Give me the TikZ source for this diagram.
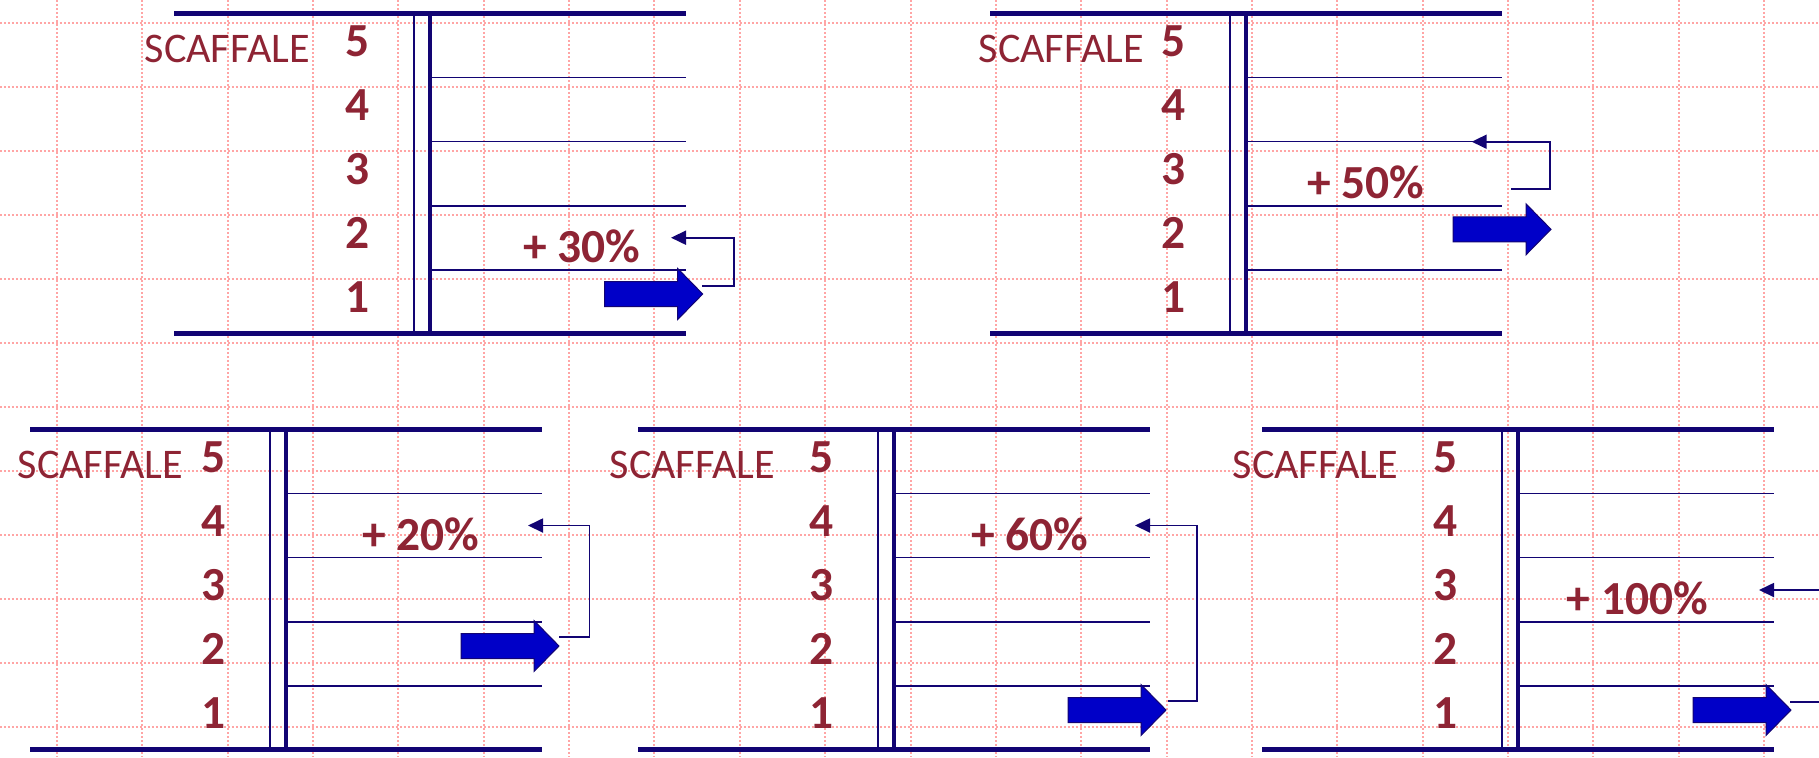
\documentclass[tikz,border=0pt]{standalone}
\usepackage{fontspec}
\setmainfont{Carlito}
\usetikzlibrary{arrows.meta}

\definecolor{navy}{RGB}{18,4,115}
\definecolor{shelfred}{RGB}{142,36,52}
\definecolor{arrowblue}{RGB}{0,0,200}
\definecolor{gridpink}{RGB}{255,165,165}

\tikzset{
  gridline/.style={gridpink, line width=0.2mm, dash pattern=on 0.2mm off 0.2mm},
  bar/.style={navy, line width=0.5mm},
  thinpost/.style={navy, line width=0.15mm},
  thickpost/.style={navy, line width=0.4mm},
  shelfline/.style={navy, line width=0.18mm},
  levelnum/.style={text=shelfred, font=\fontsize{13.5}{16}\selectfont\bfseries, anchor=base, inner sep=0pt},
  rackname/.style={text=shelfred, font=\fontsize{12}{14}\selectfont, anchor=base west, inner sep=0pt},
  gain/.style={text=shelfred, font=\fontsize{13.5}{16}\selectfont\bfseries, anchor=base, inner sep=0pt},
  fatarrow/.style={fill=arrowblue, draw=navy, line width=0.1mm},
  loopback/.style={navy, line width=0.18mm, -{Triangle[length=1.5mm,width=1.4mm]}},
}

% one rack: name prefix, left x, top y, x of the caption
\newcommand\rack[4]{%
  \begin{scope}[shift={(#2,#3)}]
    \draw[bar] (0,0) -- (511.5,0);
    \draw[bar] (0,320.5) -- (511.5,320.5);
    \draw[thinpost] (240,0) -- (240,320.5);
    \draw[thickpost] (255.5,0) -- (255.5,320.5);
    \foreach \k in {1,...,4}
      \draw[shelfline] (255.5,{64.1*\k}) -- (511.5,{64.1*\k});
    \node[rackname] (#1-name) at (#4,49) {SCAFFALE};
    \foreach \i in {1,...,5}
      \node[levelnum] (#1-n\i) at (183.5,{64.1*(5-\i)+43}) {\i};
  \end{scope}}

% thick blue arrow: name, tip x, centre y
\newcommand\fatarrow[3]{%
  \begin{scope}[shift={(#2,#3)}]
    \draw[fatarrow] (-98,-12.5) -- (-25,-12.5) -- (-25,-25.5) -- (0,0)
      -- (-25,25.5) -- (-25,12.5) -- (-98,12.5) -- cycle;
    \coordinate (#1) at (0,0);
  \end{scope}}

\begin{document}
\begin{tikzpicture}[x=0.1mm, y=-0.1mm]
  \useasboundingbox (0,0) rectangle (1819,757);
  \clip (0,0) rectangle (1819,757);
  \fill[white] (0,0) rectangle (1819,757);

  % squared paper
  \foreach \k in {0,...,20}
    \draw[gridline] ({57+85.35*\k},0) -- ({57+85.35*\k},757);
  \foreach \k in {0,...,11}
    \draw[gridline] (0,{23.3+64*\k}) -- (1819,{23.3+64*\k});

  % racks
  \rack{tl}{174}{13.3}{-30}
  \rack{tr}{990}{13.3}{-12}
  \rack{bl}{30}{429.3}{-13}
  \rack{bm}{638}{429.3}{-29}
  \rack{br}{1262}{429.3}{-30}

  % gains
  \node[gain] (tl-gain) at (582,262) {+ 30\%};
  \node[gain] (tr-gain) at (1366,198) {+ 50\%};
  \node[gain] (bl-gain) at (421,550) {+ 20\%};
  \node[gain] (bm-gain) at (1030,550) {+ 60\%};
  \node[gain] (br-gain) at (1637.5,614) {+ 100\%};

  % outgoing flows
  \fatarrow{tl-flow}{702.7}{294}
  \fatarrow{tr-flow}{1551}{229.3}
  \fatarrow{bl-flow}{559}{646}
  \fatarrow{bm-flow}{1166}{710}
  \fatarrow{br-flow}{1791}{710}

  % loop-back connectors
  \coordinate (tl-out) at (702,285.7);   \coordinate (tl-in) at (671,237.7);
  \coordinate (tr-out) at (1511,189.3);  \coordinate (tr-in) at (1471.7,141.7);
  \coordinate (bl-out) at (559,637);     \coordinate (bl-in) at (528,525.5);
  \coordinate (bm-out) at (1168,700.7);  \coordinate (bm-in) at (1135,525.5);
  \coordinate (br-out) at (1790,701.7);  \coordinate (br-in) at (1759,590);

  \draw[loopback] (tl-out) -- (734.3,285.7) |- (tl-in);
  \draw[loopback] (tr-out) -- (1550,189.3) |- (tr-in);
  \draw[loopback] (bl-out) -- (589.4,637) |- (bl-in);
  \draw[loopback] (bm-out) -- (1197,700.7) |- (bm-in);
  \draw[loopback] (br-out) -- (1850,701.7) |- (br-in);
\end{tikzpicture}
\end{document}
